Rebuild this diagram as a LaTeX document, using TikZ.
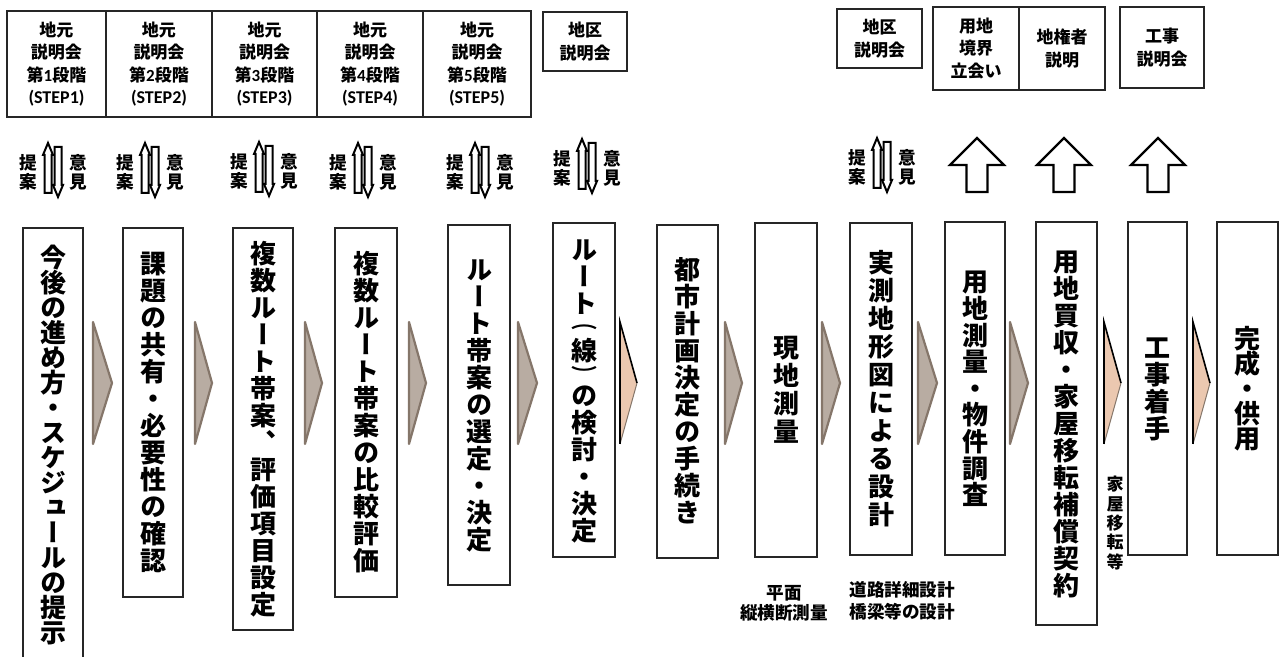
\documentclass[tikz,border=0pt]{standalone}
\usepackage{graphicx}
\usepackage{fontspec}
\setmainfont{Noto Sans CJK JP}
\newfontfamily\jpv{Noto Sans CJK JP}[Script=CJK,RawFeature={+vert}]
\newfontfamily\lat{Carlito}
\definecolor{chevfill}{HTML}{B8ACA2}
\definecolor{chevline}{HTML}{85766A}
\definecolor{tanfill}{HTML}{EBC8B0}
\definecolor{boxline}{HTML}{262626}
\makeatletter
\newcommand\VT[1]{\vbox{\offinterlineskip#1}}
\newcommand\vc[2]{\def\vt@p{#1}\vt@loop#2\@nil}
\def\vt@loop#1{\ifx#1\@nil\else\vt@one{#1}\expandafter\vt@loop\fi}
\def\vt@one#1{\hbox to 1em{\hss\vbox to \vt@p{\vss\hbox{\vrule height .88em depth .12em width 0pt#1}\vss}\hss}}
\newcommand\vp[2]{\hbox to 1em{\hss\vbox to #1{\vss\hbox{\scalebox{1}[0.6]{#2}}\vss}\hss}}
\makeatother
\tikzset{
  mainbox/.style={draw=boxline, line width=1pt, fill=white, inner sep=0pt, outer sep=0pt,
    font=\jpv\bfseries\fontsize{13pt}{13.5pt}\selectfont},
  topbox/.style={draw=boxline, line width=0.8pt, fill=white, inner sep=0pt, outer sep=0pt, align=center,
    font=\bfseries\fontsize{8.5pt}{11.2pt}\selectfont},
  lab/.style={inner sep=0pt, align=center, font=\bfseries\fontsize{8.8pt}{9.6pt}\selectfont},
  note/.style={inner sep=0pt, align=center, font=\bfseries\fontsize{8.8pt}{10pt}\selectfont},
  chevg/.style={fill=chevfill, draw=chevline, line width=1.1pt, line join=round},
  thinarrow/.style={draw=black, fill=white, line width=1pt, line join=miter},
  bigarrow/.style={draw=black, fill=white, line width=1.1pt, line join=miter}
}
\newcommand\MB[6]{%
  \pgfmathsetmacro\cx{(#2+#4)/2}\pgfmathsetmacro\cy{(#3+#5)/2}%
  \pgfmathsetmacro\ww{(#4-#2)*0.5}\pgfmathsetmacro\hh{(#5-#3)*0.5}%
  \node[mainbox, minimum width=\ww pt, minimum height=\hh pt] (#1) at (\cx,\cy) {#6};}
\newcommand\TB[6]{%
  \pgfmathsetmacro\cx{(#2+#4)/2}\pgfmathsetmacro\cy{(#3+#5)/2}%
  \pgfmathsetmacro\ww{(#4-#2)*0.5}\pgfmathsetmacro\hh{(#5-#3)*0.5}%
  \node[topbox, minimum width=\ww pt, minimum height=\hh pt] (#1) at (\cx,\cy) {#6};}
\newcommand\chevG[2]{\draw[chevg] (#1,322) -- (#2,383) -- (#1,444) -- cycle;}
\newcommand\chevT[2]{\fill[tanfill] (#1,322) -- (#2,383) -- (#1,444) -- cycle;
  \draw[chevline, line width=0.5pt] (#1,444) -- (#2,383);
  \draw[black, line width=0.8pt] (#2,383) -- (#1,322) -- (#1,444);}
\newcommand\UD[3]{% center, top y, name
  \draw[thinarrow] (#1-5,#2) -- (#1,#2+12) -- (#1-1.5,#2+12) -- (#1-1.5,#2+50) -- (#1-8.5,#2+50) -- (#1-8.5,#2+12) -- (#1-10,#2+12) -- cycle;
  \draw[thinarrow] (#1+1.5,#2+4) -- (#1+8.5,#2+4) -- (#1+8.5,#2+42) -- (#1+10,#2+42) -- (#1+5,#2+54) -- (#1,#2+42) -- (#1+1.5,#2+42) -- cycle;
  \node[lab] (#3a) at (#1-25,#2+29) {提\\案};
  \node[lab] (#3b) at (#1+25,#2+29) {意\\見};}
\newcommand\HU[2]{%
  \draw[bigarrow] (#1,138) -- (#1+27,165) -- (#1+10.5,165) -- (#1+10.5,192) -- (#1-10.5,192) -- (#1-10.5,165) -- (#1-27,165) -- cycle;
  \coordinate (#2) at (#1,165);}
\begin{document}
\begin{tikzpicture}[x=0.5pt,y=-0.5pt]
\fill[white] (0,0) rectangle (1281,657);
\useasboundingbox (0,0) rectangle (1281,657);
% top boxes
\TB{s1}{7}{11}{106}{117}{地元\\説明会\\第{\lat 1}段階\\{\lat\fontsize{9pt}{11.2pt}\selectfont(STEP1)}}
\TB{s2}{106}{11}{212}{117}{地元\\説明会\\第{\lat 2}段階\\{\lat\fontsize{9pt}{11.2pt}\selectfont(STEP2)}}
\TB{s3}{212}{11}{317}{117}{地元\\説明会\\第{\lat 3}段階\\{\lat\fontsize{9pt}{11.2pt}\selectfont(STEP3)}}
\TB{s4}{317}{11}{423}{117}{地元\\説明会\\第{\lat 4}段階\\{\lat\fontsize{9pt}{11.2pt}\selectfont(STEP4)}}
\TB{s5}{423}{11}{531}{117}{地元\\説明会\\第{\lat 5}段階\\{\lat\fontsize{9pt}{11.2pt}\selectfont(STEP5)}}
\TB{k1}{543}{12}{627}{71}{地区\\説明会}
\TB{k2}{837}{9}{922}{68}{地区\\説明会}
\TB{y1}{933}{7}{1019}{90}{用地\\境界\\立会い}
\TB{y2}{1019}{7}{1105}{90}{地権者\\説明}
\TB{y3}{1120}{7}{1204}{88}{工事\\説明会}
% proposal / opinion arrows
\UD{53}{143}{p1}
\UD{150}{143}{p2}
\UD{264}{142}{p3}
\UD{363}{143}{p4}
\UD{480}{143}{p5}
\UD{587}{139}{p6}
\UD{882}{138}{p7}
% hollow up arrows
\HU{977}{u1}
\HU{1064}{u2}
\HU{1158}{u3}
% main boxes
\MB{b1}{23}{228}{83}{662}{\VT{\vc{12.5pt}{今後の進め方・スケジュールの提示}}}
\MB{b2}{123}{228}{183}{597}{\VT{\vc{13.5pt}{課題の共有・必要性の確認}}}
\MB{b3}{233}{228}{293}{630}{\VT{\vc{13.5pt}{複数ルート帯案、評価項目設定}}}
\MB{b4}{335}{228}{397}{597}{\VT{\vc{13.5pt}{複数ルート帯案の比較評価}}}
\MB{b5}{448}{225}{510}{585}{\VT{\vc{13.5pt}{ルート帯案の選定・決定}}}
\MB{b6}{553}{223}{615}{557}{\VT{\vc{13.5pt}{ルート}\vp{10pt}{︵}\vc{13.5pt}{線}\vp{9pt}{︶}\vc{13.5pt}{の検討・決定}}}
\MB{b7}{657}{225}{718}{558}{\VT{\vc{13.5pt}{都市計画決定の手続き}}}
\MB{b8}{755}{223}{817}{557}{\VT{\vc{14pt}{現地測量}}}
\MB{b9}{850}{223}{912}{555}{\VT{\vc{14pt}{実測地形図による設計}}}
\MB{b10}{945}{222}{1005}{555}{\VT{\vc{13.3pt}{用地測量・物件調査}}}
\MB{b11}{1036}{222}{1097}{625}{\VT{\vc{13.5pt}{用地買収・家屋移転補償契約}}}
\MB{b12}{1128}{222}{1187}{555}{\VT{\vc{13.5pt}{工事着手}}}
\MB{b13}{1217}{222}{1278}{555}{\VT{\vc{12.5pt}{完成・供用}}}
% chevrons
\chevG{93}{112}
\chevG{195}{212}
\chevG{305}{322}
\chevG{409}{426}
\chevG{518}{537}
\chevT{620}{637}
\chevG{725}{742}
\chevG{822}{840}
\chevG{918}{937}
\chevG{1010}{1028}
\chevT{1104}{1121}
\chevT{1193}{1210}
% notes
\node[note] (n1) at (784,593) {平面};
\node[note] (n2) at (784,613) {縦横断測量};
\node[note, anchor=west] (n3) at (849,590) {道路詳細設計};
\node[note, anchor=west] (n4) at (849,612) {橋梁等の設計};
\node[inner sep=0pt, font=\jpv\bfseries\fontsize{8.5pt}{9.7pt}\selectfont] (n5) at (1115,523) {\VT{\vc{9.7pt}{家屋移転等}}};
\end{tikzpicture}
\end{document}
